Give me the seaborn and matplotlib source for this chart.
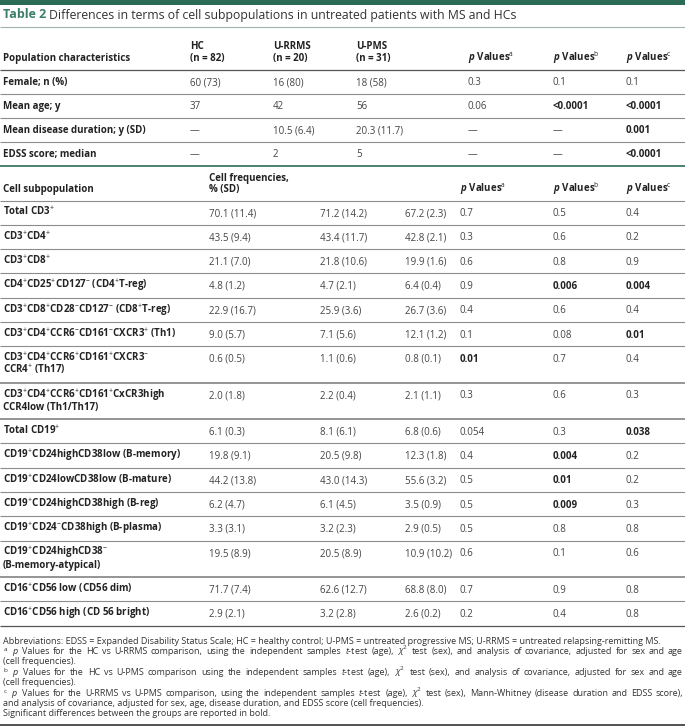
import matplotlib
matplotlib.use("Agg")
import matplotlib.pyplot as plt
import seaborn as sns

# ---- table content ----
title_tag = "Table 2"
title_text = "Differences in terms of cell subpopulations in untreated patients with MS and HCs"

group_names = ["HC", "U-RRMS", "U-PMS"]
group_n = [82, 20, 31]

pop_labels = ["Female; n (%)", "Mean age; y", "Mean disease duration; y (SD)", "EDSS score; median"]
pop_hc = ["60 (73)", "37", "—", "—"]
pop_rrms = ["16 (80)", "42", "10.5 (6.4)", "2"]
pop_pms = ["18 (58)", "56", "20.3 (11.7)", "5"]
pop_pa = ["0.3", "0.06", "—", "—"]
pop_pb = ["0.1", "<0.0001", "—", "—"]
pop_pc = ["0.1", "<0.0001", "0.001", "<0.0001"]

cell_labels = [
    "Total CD3$^{+}$",
    "CD3$^{+}$CD4$^{+}$",
    "CD3$^{+}$CD8$^{+}$",
    "CD4$^{+}$CD25$^{+}$CD127$^{-}$ (CD4$^{+}$T-reg)",
    "CD3$^{+}$CD8$^{+}$CD28$^{-}$CD127$^{-}$ (CD8$^{+}$T-reg)",
    "CD3$^{+}$CD4$^{+}$CCR6$^{-}$CD161$^{-}$CXCR3$^{+}$ (Th1)",
    "CD3$^{+}$CD4$^{+}$CCR6$^{+}$CD161$^{+}$CXCR3$^{-}$\nCCR4$^{+}$ (Th17)",
    "CD3$^{+}$CD4$^{+}$CCR6$^{+}$CD161$^{+}$CxCR3high\nCCR4low (Th1/Th17)",
    "Total CD19$^{+}$",
    "CD19$^{+}$CD24highCD38low (B-memory)",
    "CD19$^{+}$CD24lowCD38low (B-mature)",
    "CD19$^{+}$CD24highCD38high (B-reg)",
    "CD19$^{+}$CD24$^{-}$CD38high (B-plasma)",
    "CD19$^{+}$CD24highCD38$^{-}$\n(B-memory-atypical)",
    "CD16$^{+}$CD56 low (CD56 dim)",
    "CD16$^{+}$CD56 high (CD 56 bright)",
]
hc_mean = [70.1, 43.5, 21.1, 4.8, 22.9, 9.0, 0.6, 2.0, 6.1, 19.8, 44.2, 6.2, 3.3, 19.5, 71.7, 2.9]
hc_sd = [11.4, 9.4, 7.0, 1.2, 16.7, 5.7, 0.5, 1.8, 0.3, 9.1, 13.8, 4.7, 3.1, 8.9, 7.4, 2.1]
rrms_mean = [71.2, 43.4, 21.8, 4.7, 25.9, 7.1, 1.1, 2.2, 8.1, 20.5, 43.0, 6.1, 3.2, 20.5, 62.6, 3.2]
rrms_sd = [14.2, 11.7, 10.6, 2.1, 3.6, 5.6, 0.6, 0.4, 6.1, 9.8, 14.3, 4.5, 2.3, 8.9, 12.7, 2.8]
pms_mean = [67.2, 42.8, 19.9, 6.4, 26.7, 12.1, 0.8, 2.1, 6.8, 12.3, 55.6, 3.5, 2.9, 10.9, 68.8, 2.6]
pms_sd = [2.3, 2.1, 1.6, 0.4, 3.6, 1.2, 0.1, 1.1, 0.6, 1.8, 3.2, 0.9, 0.5, 10.2, 8.0, 0.2]
cell_pa = ["0.7", "0.3", "0.6", "0.9", "0.4", "0.1", "0.01", "0.3", "0.054", "0.4", "0.5", "0.5", "0.5", "0.6", "0.7", "0.2"]
cell_pb = ["0.5", "0.6", "0.8", "0.006", "0.6", "0.08", "0.7", "0.6", "0.3", "0.004", "0.01", "0.009", "0.8", "0.1", "0.9", "0.4"]
cell_pc = ["0.4", "0.2", "0.9", "0.004", "0.4", "0.01", "0.4", "0.3", "0.038", "0.2", "0.2", "0.3", "0.8", "0.6", "0.8", "0.8"]

# (text, justified to full width?)
footnotes = [
    ("Abbreviations: EDSS = Expanded Disability Status Scale; HC = healthy control; U-PMS = untreated progressive MS; U-RRMS = untreated relapsing-remitting MS.", False),
    ("$^{\\mathrm{a}}$ $p$ Values for the HC vs U-RRMS comparison, using the independent samples $t$-test (age), $\\chi^{2}$ test (sex), and analysis of covariance, adjusted for sex and age", True),
    ("(cell frequencies).", False),
    ("$^{\\mathrm{b}}$ $p$ Values for the HC vs U-PMS comparison using the independent samples $t$-test (age), $\\chi^{2}$ test (sex), and analysis of covariance, adjusted for sex and age", True),
    ("(cell frequencies).", False),
    ("$^{\\mathrm{c}}$ $p$ Values for the U-RRMS vs U-PMS comparison, using the independent samples $t$-test (age), $\\chi^{2}$ test (sex), Mann-Whitney (disease duration and EDSS score),", True),
    ("and analysis of covariance, adjusted for sex, age, disease duration, and EDSS score (cell frequencies).", False),
    ("Significant differences between the groups are reported in bold.", False),
]


def is_significant(p):
    try:
        return float(p.replace("<", "")) < 0.05
    except ValueError:
        return False


# ---- style ----
sns.set_theme(style="white")
plt.rcParams["font.family"] = ["Open Sans", "DejaVu Sans"]
plt.rcParams["mathtext.fontset"] = "custom"
plt.rcParams["mathtext.rm"] = "Open Sans"
plt.rcParams["mathtext.it"] = "Open Sans:italic"
plt.rcParams["mathtext.sf"] = "Open Sans:italic:bold"
plt.rcParams["mathtext.bf"] = "Open Sans:bold"

green = "#2c6b56"
label_col = "#222222"
value_col = "#444444"
rule_col = "#8c8c8c"
fs = 7.0
fs_note = 6.5

W, H = 685, 727
fig = plt.figure(figsize=(W / 100, H / 100), dpi=100)
ax = fig.add_axes([0, 0, 1, 1])
ax.set_xlim(0, W)
ax.set_ylim(H, 0)
ax.axis("off")
renderer = fig.canvas.get_renderer()

cap = 3.4  # half cap height in px, used to centre text on a row


def put(x, yc, s, bold=False, color=value_col, size=fs):
    ax.text(x, yc + cap, s, ha="left", va="baseline", fontsize=size,
            fontweight="bold" if bold else "normal", color=color)


def put_lines(x, yc, s, step, bold=False, color=label_col):
    for i, line in enumerate(s.split("\n")):
        put(x, yc + i * step, line, bold=bold, color=color)


def justified(x0, x1, yb, s, size, color):
    words = s.split(" ")
    items = [ax.text(0, yb, w, fontsize=size, color=color, va="baseline") for w in words]
    widths = [it.get_window_extent(renderer).width for it in items]
    gap = (x1 - x0 - sum(widths)) / (len(words) - 1)
    x = x0
    for it, w in zip(items, widths):
        it.set_x(x)
        x += w + gap


# top band and title
ax.axhspan(0, 5, color=green, lw=0)
t = ax.text(3, 18.5, title_tag, fontsize=9, fontweight="bold", color="#3a7f66", va="baseline")
bb = t.get_window_extent(renderer)
ax.text(bb.x1 + 3, 18.5, title_text, fontsize=8.8, color="#333333", va="baseline")
ax.hlines(27, 0, W, color="#9fb3aa", lw=0.8)

# ---- upper block: population characteristics ----
up_x = [3, 190, 273, 356, 468, 553, 626]
low_x = [3, 209, 320, 405, 460, 553, 626]
p_heads = ["$\\mathsf{p}$ Values$^{\\mathrm{a}}$", "$\\mathsf{p}$ Values$^{\\mathrm{b}}$",
           "$\\mathsf{p}$ Values$^{\\mathrm{c}}$"]
line_step = 11.5

hdr_top = 27 + 19
put(up_x[0], hdr_top + line_step, "Population characteristics", bold=True, color=label_col)
for k, (g, n) in enumerate(zip(group_names, group_n)):
    put_lines(up_x[1 + k], hdr_top, f"{g}\n(n = {n})", line_step, bold=True)
for k, h in enumerate(p_heads):
    put(up_x[4 + k], hdr_top + line_step, h, bold=True, color=label_col)
y = 70
ax.hlines(y, 0, W, color="#555555", lw=0.9)

row_h = 24.0
for i, lab in enumerate(pop_labels):
    yc = y + row_h / 2
    put(up_x[0], yc, lab, bold=True, color=label_col)
    for k, v in enumerate([pop_hc[i], pop_rrms[i], pop_pms[i]]):
        put(up_x[1 + k], yc, v)
    for k, p in enumerate([pop_pa[i], pop_pb[i], pop_pc[i]]):
        sig = is_significant(p)
        put(up_x[4 + k], yc, p, bold=sig, color=label_col if sig else value_col)
    y += row_h
    last = i == len(pop_labels) - 1
    ax.hlines(y, 0, W, color=green if last else rule_col, lw=1.2 if last else 0.8)

# ---- lower block: cell subpopulations ----
hdr_top = y + 11.5
put(low_x[0], hdr_top + line_step, "Cell subpopulation", bold=True, color=label_col)
put_lines(low_x[1], hdr_top, "Cell frequencies,\n% (SD)", line_step, bold=True)
for k, h in enumerate(p_heads):
    put(low_x[4 + k], hdr_top + line_step, h, bold=True, color=label_col)
y += 34.5
ax.hlines(y, 0, W, color=rule_col, lw=0.8)

single_h, extra_h = 24.3, 12.1
for i, lab in enumerate(cell_labels):
    nlines = lab.count("\n") + 1
    h = single_h + extra_h * (nlines - 1)
    yc = y + single_h / 2
    put_lines(low_x[0], yc, lab, extra_h, bold=True)
    vals = [f"{hc_mean[i]:.1f} ({hc_sd[i]:.1f})",
            f"{rrms_mean[i]:.1f} ({rrms_sd[i]:.1f})",
            f"{pms_mean[i]:.1f} ({pms_sd[i]:.1f})"]
    for k, v in enumerate(vals):
        put(low_x[1 + k], yc, v)
    for k, p in enumerate([cell_pa[i], cell_pb[i], cell_pc[i]]):
        sig = is_significant(p)
        put(low_x[4 + k], yc, p, bold=sig, color=label_col if sig else value_col)
    y += h
    last = i == len(cell_labels) - 1
    ax.hlines(y, 0, W, color="#555555" if last else rule_col,
              lw=0.9 if last else (1.3 if nlines > 1 else 0.8))

# ---- footnotes ----
yf = y + 15
for note, just in footnotes:
    if just:
        justified(3, 683, yf + 3, note, fs_note, "#333333")
    else:
        ax.text(3, yf + 3, note, fontsize=fs_note, color="#333333", va="baseline")
    yf += 10.4
ax.hlines(yf + 1.5, 0, W, color="#333333", lw=1.2)

fig.savefig("out.png", dpi=100)
